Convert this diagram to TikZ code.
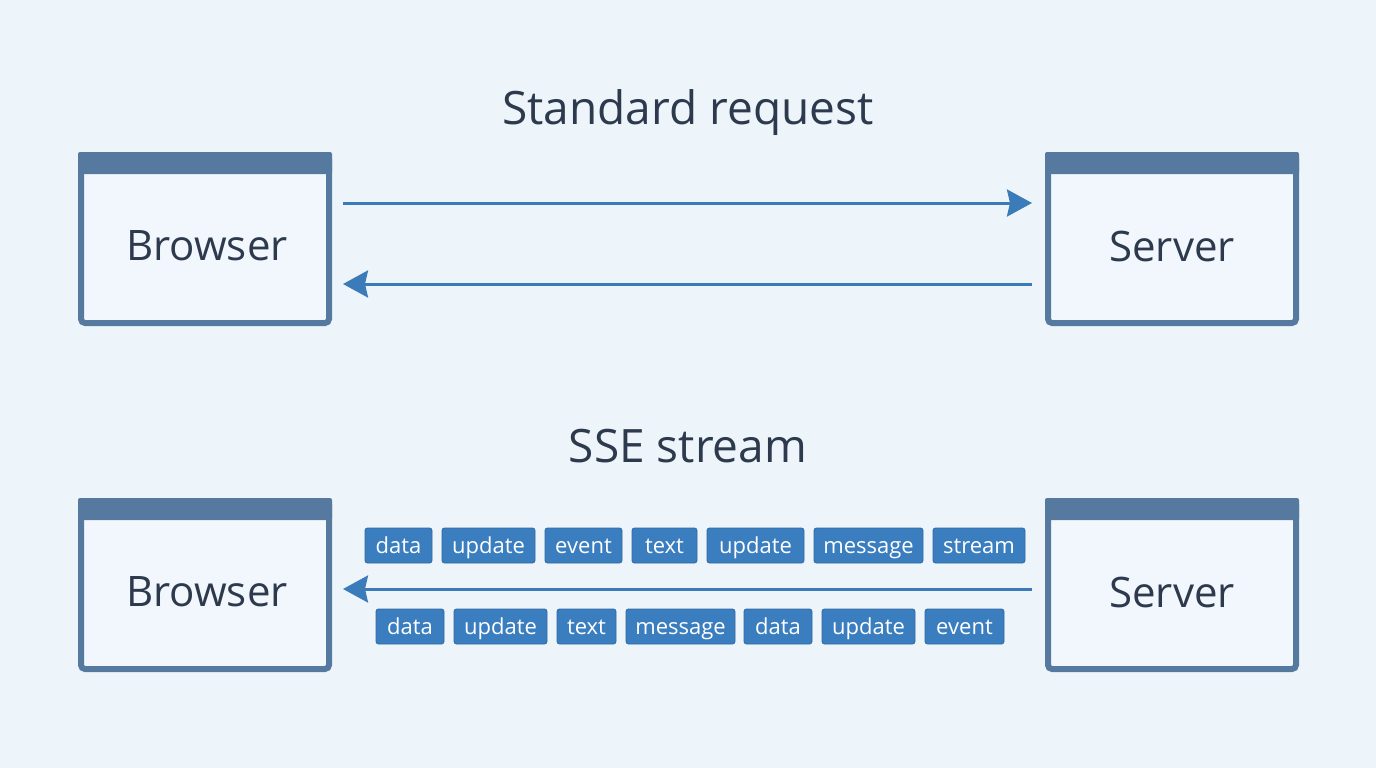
\documentclass[tikz,border=0pt]{standalone}
\usepackage{fontspec}
\setmainfont{Open Sans}
\usetikzlibrary{arrows.meta}
\definecolor{bgc}{HTML}{EEF5FA}
\definecolor{boxc}{HTML}{5679A0}
\definecolor{arrc}{HTML}{3B7BBA}
\definecolor{chipc}{HTML}{3A7EBF}
\definecolor{chipb}{HTML}{2F6AA3}
\definecolor{txtc}{HTML}{2D3A4D}
\definecolor{innerc}{HTML}{F1F7FC}
\tikzset{
  winbox/.style={draw=boxc, fill=innerc, line width=6pt, rounded corners=4pt, minimum width=248pt, minimum height=168pt, inner sep=0pt},
  boxtext/.style={text=txtc, font=\fontsize{42}{48}\selectfont, inner sep=0pt},
  title/.style={text=txtc, font=\fontsize{46}{52}\selectfont, inner sep=0pt},
  arr/.style={draw=arrc, line width=3pt, -{Stealth[length=25pt, width=27pt, inset=3pt]}},
  chip/.style={draw=chipb, fill=chipc, line width=0.8pt, rounded corners=2.5pt, text=white, font=\fontsize{22}{24}\selectfont, inner sep=0pt, minimum height=35pt, text height=18pt, text depth=3pt}
}
\newcommand{\chipnode}[5]{\node[chip, minimum width=#3pt-#2pt] (#1) at ({(#2+#3)/2}, #4) {#5};}
\begin{document}
\begin{tikzpicture}[x=1pt, y=-1pt]
\fill[bgc] (0,0) rectangle (1376,768);
\useasboundingbox (0,0) rectangle (1376,768);

% titles
\node[title] (t1) at (688,113) {Standard request};
\node[title] (t2) at (688,446) {SSE stream};

% boxes
\node[winbox] (b1) at (205,239) {};
\node[winbox] (s1) at (1172,239) {};
\node[winbox] (b2) at (205,585) {};
\node[winbox] (s2) at (1172,585) {};
\foreach \n in {b1,s1,b2,s2}{
  \fill[boxc, rounded corners=2pt] (\n.north west) rectangle ([yshift=-22pt]\n.north east);
}
\node[boxtext] (b1t) at (207,246) {Browser};
\node[boxtext] (s1t) at (1172,246) {Server};
\node[boxtext] (b2t) at (207,592) {Browser};
\node[boxtext] (s2t) at (1172,592) {Server};

% arrows
\draw[arr] ([xshift=11pt,yshift=36pt]b1.east) -- ([xshift=-13pt,yshift=36pt]s1.west);
\draw[arr] ([xshift=-13pt,yshift=-45pt]s1.west) -- ([xshift=11pt,yshift=-45pt]b1.east);
\draw[arr] ([xshift=-13pt,yshift=-4pt]s2.west) -- ([xshift=11pt,yshift=-4pt]b2.east);

% chips row 1
\chipnode{c1}{365}{432}{545.5}{data}
\chipnode{c2}{442}{535}{545.5}{update}
\chipnode{c3}{545}{622}{545.5}{event}
\chipnode{c4}{632}{697}{545.5}{text}
\chipnode{c5}{707}{804}{545.5}{update}
\chipnode{c6}{814}{923}{545.5}{message}
\chipnode{c7}{933}{1025}{545.5}{stream}
% chips row 2
\chipnode{d1}{376}{444}{626.5}{data}
\chipnode{d2}{454}{547}{626.5}{update}
\chipnode{d3}{557}{616}{626.5}{text}
\chipnode{d4}{626}{735}{626.5}{message}
\chipnode{d5}{744}{812}{626.5}{data}
\chipnode{d6}{822}{915}{626.5}{update}
\chipnode{d7}{925}{1004}{626.5}{event}
\end{tikzpicture}
\end{document}
